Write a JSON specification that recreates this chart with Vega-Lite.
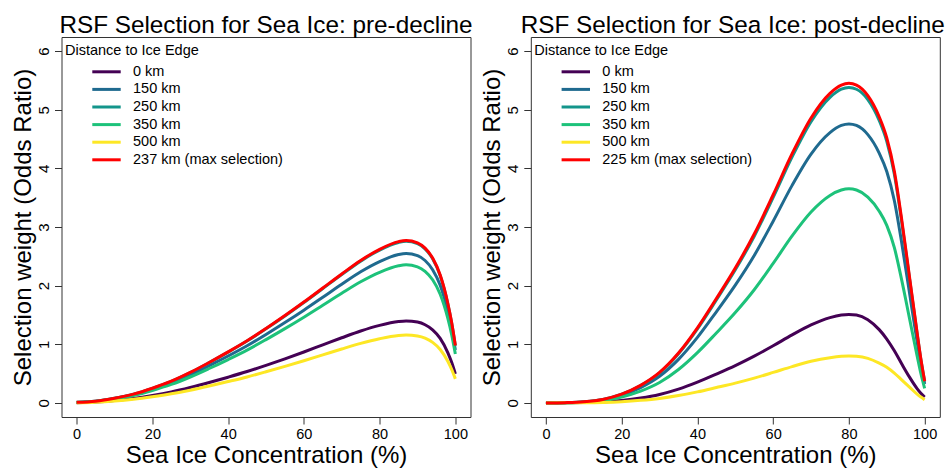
{
"$schema": "https://vega.github.io/schema/vega-lite/v6.json",
"background": "white",
"padding": {"left": 10.5, "top": 13, "right": 2, "bottom": 1},
"bounds": "flush",
"spacing": 60.3,
"config": {
  "font": "Liberation Sans",
  "view": {"stroke": "#333333", "strokeWidth": 1},
  "axis": {"domain": false, "grid": false, "ticks": true, "tickColor": "#333333", "tickSize": 7, "labelFontSize": 15, "labelColor": "black", "titleFontSize": 24, "titleFontWeight": "normal", "titleColor": "black"},
  "axisX": {"labelFontSize": 14.5, "labelPadding": 3, "titlePadding": 2.8},
  "title": {"fontSize": 24.3, "fontWeight": "normal", "color": "black", "offset": -1.4, "anchor": "middle"},
  "legend": {"titleFontSize": 14.5, "titleFontWeight": "normal", "titleColor": "black", "labelFontSize": 14.5, "labelColor": "black", "labelLimit": 300, "padding": 0, "titlePadding": 5, "rowPadding": 2.6}
},
"datasets": {
"pre": [
{"d":"0 km","x":0,"y":0.005},{"d":"0 km","x":5,"y":0.015},{"d":"0 km","x":10,"y":0.040},{"d":"0 km","x":15,"y":0.076},{"d":"0 km","x":20,"y":0.126},{"d":"0 km","x":25,"y":0.187},{"d":"0 km","x":30,"y":0.263},{"d":"0 km","x":35,"y":0.348},{"d":"0 km","x":40,"y":0.439},{"d":"0 km","x":45,"y":0.535},{"d":"0 km","x":50,"y":0.641},{"d":"0 km","x":55,"y":0.752},{"d":"0 km","x":60,"y":0.869},{"d":"0 km","x":65,"y":0.990},{"d":"0 km","x":70,"y":1.111},{"d":"0 km","x":75,"y":1.227},{"d":"0 km","x":80,"y":1.323},{"d":"0 km","x":85,"y":1.389},{"d":"0 km","x":87,"y":1.399},{"d":"0 km","x":90,"y":1.379},{"d":"0 km","x":92,"y":1.333},{"d":"0 km","x":94,"y":1.247},{"d":"0 km","x":96,"y":1.101},{"d":"0 km","x":98,"y":0.859},{"d":"0 km","x":99,"y":0.697},{"d":"0 km","x":100,"y":0.495},
{"d":"150 km","x":0,"y":0.009},{"d":"150 km","x":5,"y":0.028},{"d":"150 km","x":10,"y":0.074},{"d":"150 km","x":15,"y":0.138},{"d":"150 km","x":20,"y":0.230},{"d":"150 km","x":25,"y":0.340},{"d":"150 km","x":30,"y":0.478},{"d":"150 km","x":35,"y":0.635},{"d":"150 km","x":40,"y":0.800},{"d":"150 km","x":45,"y":0.975},{"d":"150 km","x":50,"y":1.168},{"d":"150 km","x":55,"y":1.371},{"d":"150 km","x":60,"y":1.582},{"d":"150 km","x":65,"y":1.803},{"d":"150 km","x":70,"y":2.024},{"d":"150 km","x":75,"y":2.236},{"d":"150 km","x":80,"y":2.410},{"d":"150 km","x":85,"y":2.530},{"d":"150 km","x":87,"y":2.548},{"d":"150 km","x":90,"y":2.512},{"d":"150 km","x":92,"y":2.429},{"d":"150 km","x":94,"y":2.272},{"d":"150 km","x":96,"y":2.006},{"d":"150 km","x":98,"y":1.564},{"d":"150 km","x":99,"y":1.270},{"d":"150 km","x":100,"y":0.902},
{"d":"250 km","x":0,"y":0.010},{"d":"250 km","x":5,"y":0.030},{"d":"250 km","x":10,"y":0.080},{"d":"250 km","x":15,"y":0.149},{"d":"250 km","x":20,"y":0.249},{"d":"250 km","x":25,"y":0.368},{"d":"250 km","x":30,"y":0.517},{"d":"250 km","x":35,"y":0.687},{"d":"250 km","x":40,"y":0.866},{"d":"250 km","x":45,"y":1.055},{"d":"250 km","x":50,"y":1.264},{"d":"250 km","x":55,"y":1.483},{"d":"250 km","x":60,"y":1.711},{"d":"250 km","x":65,"y":1.950},{"d":"250 km","x":70,"y":2.189},{"d":"250 km","x":75,"y":2.418},{"d":"250 km","x":80,"y":2.607},{"d":"250 km","x":85,"y":2.736},{"d":"250 km","x":87,"y":2.756},{"d":"250 km","x":90,"y":2.716},{"d":"250 km","x":92,"y":2.627},{"d":"250 km","x":94,"y":2.458},{"d":"250 km","x":96,"y":2.169},{"d":"250 km","x":98,"y":1.692},{"d":"250 km","x":99,"y":1.373},{"d":"250 km","x":100,"y":0.975},
{"d":"350 km","x":0,"y":0.009},{"d":"350 km","x":5,"y":0.026},{"d":"350 km","x":10,"y":0.068},{"d":"350 km","x":15,"y":0.128},{"d":"350 km","x":20,"y":0.213},{"d":"350 km","x":25,"y":0.315},{"d":"350 km","x":30,"y":0.442},{"d":"350 km","x":35,"y":0.587},{"d":"350 km","x":40,"y":0.740},{"d":"350 km","x":45,"y":0.901},{"d":"350 km","x":50,"y":1.080},{"d":"350 km","x":55,"y":1.267},{"d":"350 km","x":60,"y":1.462},{"d":"350 km","x":65,"y":1.666},{"d":"350 km","x":70,"y":1.870},{"d":"350 km","x":75,"y":2.066},{"d":"350 km","x":80,"y":2.227},{"d":"350 km","x":85,"y":2.338},{"d":"350 km","x":87,"y":2.355},{"d":"350 km","x":90,"y":2.321},{"d":"350 km","x":92,"y":2.244},{"d":"350 km","x":94,"y":2.100},{"d":"350 km","x":96,"y":1.853},{"d":"350 km","x":98,"y":1.445},{"d":"350 km","x":99,"y":1.173},{"d":"350 km","x":100,"y":0.833},
{"d":"500 km","x":0,"y":0.004},{"d":"500 km","x":5,"y":0.013},{"d":"500 km","x":10,"y":0.033},{"d":"500 km","x":15,"y":0.063},{"d":"500 km","x":20,"y":0.105},{"d":"500 km","x":25,"y":0.155},{"d":"500 km","x":30,"y":0.217},{"d":"500 km","x":35,"y":0.288},{"d":"500 km","x":40,"y":0.364},{"d":"500 km","x":45,"y":0.443},{"d":"500 km","x":50,"y":0.531},{"d":"500 km","x":55,"y":0.623},{"d":"500 km","x":60,"y":0.719},{"d":"500 km","x":65,"y":0.819},{"d":"500 km","x":70,"y":0.920},{"d":"500 km","x":75,"y":1.016},{"d":"500 km","x":80,"y":1.095},{"d":"500 km","x":85,"y":1.150},{"d":"500 km","x":87,"y":1.158},{"d":"500 km","x":90,"y":1.141},{"d":"500 km","x":92,"y":1.104},{"d":"500 km","x":94,"y":1.032},{"d":"500 km","x":96,"y":0.911},{"d":"500 km","x":98,"y":0.711},{"d":"500 km","x":99,"y":0.577},{"d":"500 km","x":100,"y":0.410},
{"d":"237 km (max selection)","x":0,"y":0.010},{"d":"237 km (max selection)","x":5,"y":0.030},{"d":"237 km (max selection)","x":10,"y":0.080},{"d":"237 km (max selection)","x":15,"y":0.150},{"d":"237 km (max selection)","x":20,"y":0.250},{"d":"237 km (max selection)","x":25,"y":0.370},{"d":"237 km (max selection)","x":30,"y":0.520},{"d":"237 km (max selection)","x":35,"y":0.690},{"d":"237 km (max selection)","x":40,"y":0.870},{"d":"237 km (max selection)","x":45,"y":1.060},{"d":"237 km (max selection)","x":50,"y":1.270},{"d":"237 km (max selection)","x":55,"y":1.490},{"d":"237 km (max selection)","x":60,"y":1.720},{"d":"237 km (max selection)","x":65,"y":1.960},{"d":"237 km (max selection)","x":70,"y":2.200},{"d":"237 km (max selection)","x":75,"y":2.430},{"d":"237 km (max selection)","x":80,"y":2.620},{"d":"237 km (max selection)","x":85,"y":2.750},{"d":"237 km (max selection)","x":87,"y":2.770},{"d":"237 km (max selection)","x":90,"y":2.730},{"d":"237 km (max selection)","x":92,"y":2.640},{"d":"237 km (max selection)","x":94,"y":2.470},{"d":"237 km (max selection)","x":96,"y":2.180},{"d":"237 km (max selection)","x":98,"y":1.700},{"d":"237 km (max selection)","x":99,"y":1.380},{"d":"237 km (max selection)","x":100,"y":0.980}
],
"post": [
{"d":"0 km","x":0,"y":0},{"d":"0 km","x":5,"y":0.001},{"d":"0 km","x":10,"y":0.006},{"d":"0 km","x":15,"y":0.017},{"d":"0 km","x":20,"y":0.042},{"d":"0 km","x":25,"y":0.083},{"d":"0 km","x":30,"y":0.144},{"d":"0 km","x":35,"y":0.235},{"d":"0 km","x":40,"y":0.355},{"d":"0 km","x":45,"y":0.493},{"d":"0 km","x":50,"y":0.637},{"d":"0 km","x":55,"y":0.798},{"d":"0 km","x":60,"y":0.975},{"d":"0 km","x":65,"y":1.160},{"d":"0 km","x":70,"y":1.330},{"d":"0 km","x":75,"y":1.455},{"d":"0 km","x":78,"y":1.500},{"d":"0 km","x":80,"y":1.510},{"d":"0 km","x":82,"y":1.500},{"d":"0 km","x":85,"y":1.420},{"d":"0 km","x":88,"y":1.250},{"d":"0 km","x":90,"y":1.090},{"d":"0 km","x":92,"y":0.890},{"d":"0 km","x":94,"y":0.660},{"d":"0 km","x":96,"y":0.440},{"d":"0 km","x":98,"y":0.245},{"d":"0 km","x":99,"y":0.165},{"d":"0 km","x":100,"y":0.100},
{"d":"150 km","x":0,"y":0},{"d":"150 km","x":5,"y":0.004},{"d":"150 km","x":10,"y":0.017},{"d":"150 km","x":15,"y":0.052},{"d":"150 km","x":20,"y":0.131},{"d":"150 km","x":25,"y":0.262},{"d":"150 km","x":30,"y":0.454},{"d":"150 km","x":35,"y":0.742},{"d":"150 km","x":40,"y":1.117},{"d":"150 km","x":45,"y":1.554},{"d":"150 km","x":50,"y":2.008},{"d":"150 km","x":55,"y":2.514},{"d":"150 km","x":60,"y":3.099},{"d":"150 km","x":65,"y":3.710},{"d":"150 km","x":70,"y":4.243},{"d":"150 km","x":75,"y":4.609},{"d":"150 km","x":78,"y":4.732},{"d":"150 km","x":80,"y":4.758},{"d":"150 km","x":82,"y":4.731},{"d":"150 km","x":85,"y":4.575},{"d":"150 km","x":88,"y":4.260},{"d":"150 km","x":90,"y":3.946},{"d":"150 km","x":92,"y":3.448},{"d":"150 km","x":94,"y":2.706},{"d":"150 km","x":96,"y":1.877},{"d":"150 km","x":98,"y":1.048},{"d":"150 km","x":99,"y":0.655},{"d":"150 km","x":100,"y":0.323},
{"d":"250 km","x":0,"y":0},{"d":"250 km","x":5,"y":0.005},{"d":"250 km","x":10,"y":0.020},{"d":"250 km","x":15,"y":0.059},{"d":"250 km","x":20,"y":0.148},{"d":"250 km","x":25,"y":0.296},{"d":"250 km","x":30,"y":0.513},{"d":"250 km","x":35,"y":0.839},{"d":"250 km","x":40,"y":1.263},{"d":"250 km","x":45,"y":1.757},{"d":"250 km","x":50,"y":2.270},{"d":"250 km","x":55,"y":2.843},{"d":"250 km","x":60,"y":3.504},{"d":"250 km","x":65,"y":4.195},{"d":"250 km","x":70,"y":4.797},{"d":"250 km","x":75,"y":5.211},{"d":"250 km","x":78,"y":5.350},{"d":"250 km","x":80,"y":5.379},{"d":"250 km","x":82,"y":5.349},{"d":"250 km","x":85,"y":5.172},{"d":"250 km","x":88,"y":4.816},{"d":"250 km","x":90,"y":4.461},{"d":"250 km","x":92,"y":3.899},{"d":"250 km","x":94,"y":3.060},{"d":"250 km","x":96,"y":2.122},{"d":"250 km","x":98,"y":1.184},{"d":"250 km","x":99,"y":0.740},{"d":"250 km","x":100,"y":0.365},
{"d":"350 km","x":0,"y":0},{"d":"350 km","x":5,"y":0.003},{"d":"350 km","x":10,"y":0.013},{"d":"350 km","x":15,"y":0.040},{"d":"350 km","x":20,"y":0.101},{"d":"350 km","x":25,"y":0.201},{"d":"350 km","x":30,"y":0.348},{"d":"350 km","x":35,"y":0.570},{"d":"350 km","x":40,"y":0.858},{"d":"350 km","x":45,"y":1.193},{"d":"350 km","x":50,"y":1.541},{"d":"350 km","x":55,"y":1.930},{"d":"350 km","x":60,"y":2.379},{"d":"350 km","x":65,"y":2.848},{"d":"350 km","x":70,"y":3.256},{"d":"350 km","x":75,"y":3.538},{"d":"350 km","x":78,"y":3.631},{"d":"350 km","x":80,"y":3.652},{"d":"350 km","x":82,"y":3.631},{"d":"350 km","x":85,"y":3.511},{"d":"350 km","x":88,"y":3.270},{"d":"350 km","x":90,"y":3.028},{"d":"350 km","x":92,"y":2.647},{"d":"350 km","x":94,"y":2.077},{"d":"350 km","x":96,"y":1.441},{"d":"350 km","x":98,"y":0.804},{"d":"350 km","x":99,"y":0.502},{"d":"350 km","x":100,"y":0.248},
{"d":"500 km","x":0,"y":0},{"d":"500 km","x":5,"y":0.001},{"d":"500 km","x":10,"y":0.003},{"d":"500 km","x":15,"y":0.009},{"d":"500 km","x":20,"y":0.022},{"d":"500 km","x":25,"y":0.044},{"d":"500 km","x":30,"y":0.076},{"d":"500 km","x":35,"y":0.125},{"d":"500 km","x":40,"y":0.188},{"d":"500 km","x":45,"y":0.262},{"d":"500 km","x":50,"y":0.338},{"d":"500 km","x":55,"y":0.423},{"d":"500 km","x":60,"y":0.520},{"d":"500 km","x":65,"y":0.620},{"d":"500 km","x":70,"y":0.710},{"d":"500 km","x":75,"y":0.772},{"d":"500 km","x":78,"y":0.795},{"d":"500 km","x":80,"y":0.800},{"d":"500 km","x":82,"y":0.795},{"d":"500 km","x":85,"y":0.760},{"d":"500 km","x":88,"y":0.680},{"d":"500 km","x":90,"y":0.610},{"d":"500 km","x":92,"y":0.510},{"d":"500 km","x":94,"y":0.390},{"d":"500 km","x":96,"y":0.270},{"d":"500 km","x":98,"y":0.150},{"d":"500 km","x":99,"y":0.100},{"d":"500 km","x":100,"y":0.055},
{"d":"225 km (max selection)","x":0,"y":0},{"d":"225 km (max selection)","x":5,"y":0.005},{"d":"225 km (max selection)","x":10,"y":0.020},{"d":"225 km (max selection)","x":15,"y":0.060},{"d":"225 km (max selection)","x":20,"y":0.150},{"d":"225 km (max selection)","x":25,"y":0.300},{"d":"225 km (max selection)","x":30,"y":0.520},{"d":"225 km (max selection)","x":35,"y":0.850},{"d":"225 km (max selection)","x":40,"y":1.280},{"d":"225 km (max selection)","x":45,"y":1.780},{"d":"225 km (max selection)","x":50,"y":2.300},{"d":"225 km (max selection)","x":55,"y":2.880},{"d":"225 km (max selection)","x":60,"y":3.550},{"d":"225 km (max selection)","x":65,"y":4.250},{"d":"225 km (max selection)","x":70,"y":4.860},{"d":"225 km (max selection)","x":75,"y":5.280},{"d":"225 km (max selection)","x":78,"y":5.420},{"d":"225 km (max selection)","x":80,"y":5.450},{"d":"225 km (max selection)","x":82,"y":5.420},{"d":"225 km (max selection)","x":85,"y":5.240},{"d":"225 km (max selection)","x":88,"y":4.880},{"d":"225 km (max selection)","x":90,"y":4.520},{"d":"225 km (max selection)","x":92,"y":3.950},{"d":"225 km (max selection)","x":94,"y":3.100},{"d":"225 km (max selection)","x":96,"y":2.150},{"d":"225 km (max selection)","x":98,"y":1.200},{"d":"225 km (max selection)","x":99,"y":0.750},{"d":"225 km (max selection)","x":100,"y":0.370}
]
},
"hconcat": [
{
  "width": 409, "height": 380,
  "title": {"text": "RSF Selection for Sea Ice: pre-decline"},
  "data": {"name": "pre"},
  "mark": {"type": "line", "strokeWidth": 3, "interpolate": "monotone"},
  "encoding": {
    "x": {"field": "x", "type": "quantitative", "scale": {"domain": [-4, 104], "nice": false, "zero": false}, "axis": {"values": [0, 20, 40, 60, 80, 100], "title": "Sea Ice Concentration (%)", "labelAngle": 0}},
    "y": {"field": "y", "type": "quantitative", "scale": {"domain": [-0.24, 6.24], "nice": false, "zero": false}, "axis": {"values": [0, 1, 2, 3, 4, 5, 6], "title": "Selection weight (Odds Ratio)", "labelAngle": -90, "labelAlign": "center", "labelBaseline": "alphabetic", "labelPadding": 6.5, "titlePadding": 1}},
    "color": {"field": "d", "type": "nominal", "sort": null,
      "scale": {"domain": ["0 km", "150 km", "250 km", "350 km", "500 km", "237 km (max selection)"], "range": ["#440154", "#1F6A8F", "#13958B", "#1DC27A", "#FDE725", "#FF0000"]},
      "legend": {"title": "Distance to Ice Edge", "orient": "none", "legendX": 3.5, "legendY": 6.8, "symbolType": "M-2.1,0H2.1", "symbolSize": 183, "symbolStrokeWidth": 3, "symbolOffset": 33, "labelOffset": 18}}
  }
},
{
  "width": 409, "height": 380,
  "title": {"text": "RSF Selection for Sea Ice: post-decline", "dx": -2.5},
  "data": {"name": "post"},
  "mark": {"type": "line", "strokeWidth": 3, "interpolate": "monotone"},
  "encoding": {
    "x": {"field": "x", "type": "quantitative", "scale": {"domain": [-4, 104], "nice": false, "zero": false}, "axis": {"values": [0, 20, 40, 60, 80, 100], "title": "Sea Ice Concentration (%)", "labelAngle": 0}},
    "y": {"field": "y", "type": "quantitative", "scale": {"domain": [-0.24, 6.24], "nice": false, "zero": false}, "axis": {"values": [0, 1, 2, 3, 4, 5, 6], "title": "Selection weight (Odds Ratio)", "labelAngle": -90, "labelAlign": "center", "labelBaseline": "alphabetic", "labelPadding": 6.5, "titlePadding": 1}},
    "color": {"field": "d", "type": "nominal", "sort": null,
      "scale": {"domain": ["0 km", "150 km", "250 km", "350 km", "500 km", "225 km (max selection)"], "range": ["#440154", "#1F6A8F", "#13958B", "#1DC27A", "#FDE725", "#FF0000"]},
      "legend": {"title": "Distance to Ice Edge", "orient": "none", "legendX": 3.5, "legendY": 6.8, "symbolType": "M-2.1,0H2.1", "symbolSize": 183, "symbolStrokeWidth": 3, "symbolOffset": 33, "labelOffset": 18}}
  }
}
],
"resolve": {"scale": {"color": "independent"}, "legend": {"color": "independent"}}
}
